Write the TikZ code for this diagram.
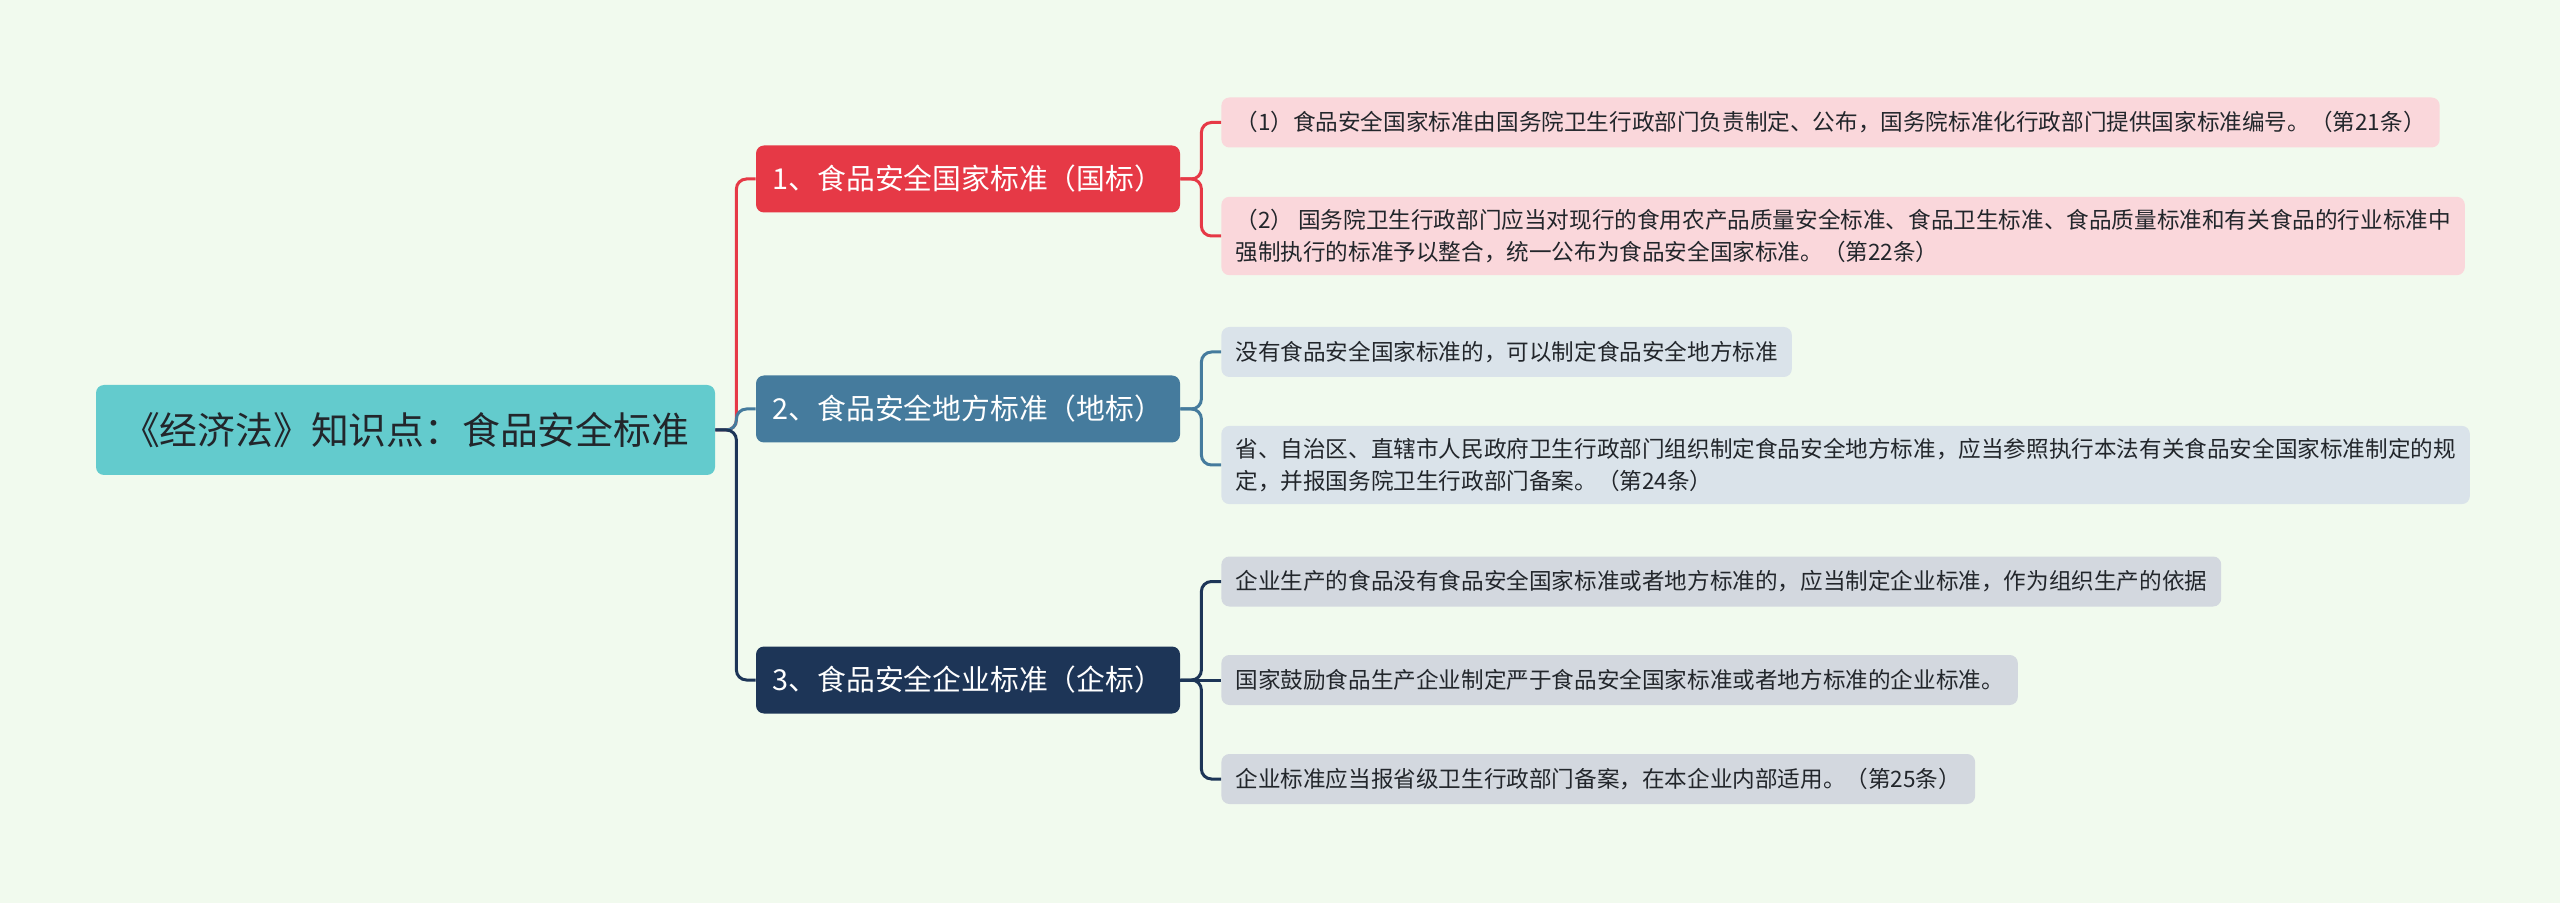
\documentclass[tikz,border=0pt]{standalone}
\usepackage{fontspec}
\setmainfont{Noto Sans CJK SC}
\usetikzlibrary{calc}
\definecolor{paper}{HTML}{F1FAEE}
\definecolor{rootfill}{HTML}{63CBCD}
\definecolor{ink}{HTML}{22262B}
\definecolor{guo}{HTML}{E63946}
\definecolor{di}{HTML}{457B9D}
\definecolor{qi}{HTML}{1D3557}
\definecolor{guoleaf}{HTML}{FAD7DB}
\definecolor{dileaf}{HTML}{DAE3EA}
\definecolor{qileaf}{HTML}{D3D8DF}
\newcommand{\rootfont}{\fontsize{18.9}{22}\selectfont}
\newcommand{\branchfont}{\fontsize{14.4}{17}\selectfont}
\newcommand{\leaffont}{\fontsize{11.3}{16.3}\selectfont}

\begin{document}
\begin{tikzpicture}[x=0.5pt,y=-0.5pt,
  rootbox/.style={fill=rootfill,rounded corners=4pt,text=ink,font=\rootfont,
    minimum width=309.5pt,minimum height=45pt,inner sep=0},
  branchbox/.style={fill=#1,rounded corners=4pt,text=white,font=\branchfont,
    minimum width=212pt,minimum height=33.5pt,inner sep=0},
  leafbox/.style={fill=#1,rounded corners=4pt,text=ink,font=\leaffont,anchor=west,
    align=left,inner xsep=7pt,inner ysep=6pt,minimum height=25pt},
  link/.style={draw=#1,line width=1.5pt,rounded corners=5pt}]
\fill[paper] (0,0) rectangle (2560,903);

\node[rootbox] (root) at (405.5,430) {《经济法》知识点：食品安全标准};

\node[branchbox=guo] (b1) at (968,179) {1、食品安全国家标准（国标）};
\node[branchbox=di] (b2) at (968,409) {2、食品安全地方标准（地标）};
\node[branchbox=qi] (b3) at (968,680) {3、食品安全企业标准（企标）};

\node[leafbox=guoleaf] (l11) at (1221,122.5) {（1）食品安全国家标准由国务院卫生行政部门负责制定、公布，国务院标准化行政部门提供国家标准编号。（第21条）};
\node[leafbox=guoleaf] (l12) at (1221,236) {（2） 国务院卫生行政部门应当对现行的食用农产品质量安全标准、食品卫生标准、食品质量标准和有关食品的行业标准中\\强制执行的标准予以整合，统一公布为食品安全国家标准。（第22条）};
\node[leafbox=dileaf] (l21) at (1221,352) {没有食品安全国家标准的，可以制定食品安全地方标准};
\node[leafbox=dileaf] (l22) at (1221,465) {省、自治区、直辖市人民政府卫生行政部门组织制定食品安全地方标准，应当参照执行本法有关食品安全国家标准制定的规\\定，并报国务院卫生行政部门备案。（第24条）};
\node[leafbox=qileaf] (l31) at (1221,581.5) {企业生产的食品没有食品安全国家标准或者地方标准的，应当制定企业标准，作为组织生产的依据};
\node[leafbox=qileaf] (l32) at (1221,680) {国家鼓励食品生产企业制定严于食品安全国家标准或者地方标准的企业标准。};
\node[leafbox=qileaf] (l33) at (1221,779) {企业标准应当报省级卫生行政部门备案，在本企业内部适用。（第25条）};

\draw[link=guo] (root.east) -- ++(21,0) |- (b1.west);
\draw[link=di] (root.east) -- ++(21,0) |- (b2.west);
\draw[link=qi] (root.east) -- ++(21,0) |- (b3.west);

\draw[link=guo] (b1.east) -- ++(21,0) |- (l11.west);
\draw[link=guo] (b1.east) -- ++(21,0) |- (l12.west);
\draw[link=di] (b2.east) -- ++(21,0) |- (l21.west);
\draw[link=di] (b2.east) -- ++(21,0) |- (l22.west);
\draw[link=qi] (b3.east) -- ++(21,0) |- (l31.west);
\draw[link=qi] (b3.east) -- (l32.west);
\draw[link=qi] (b3.east) -- ++(21,0) |- (l33.west);
\end{tikzpicture}
\end{document}
